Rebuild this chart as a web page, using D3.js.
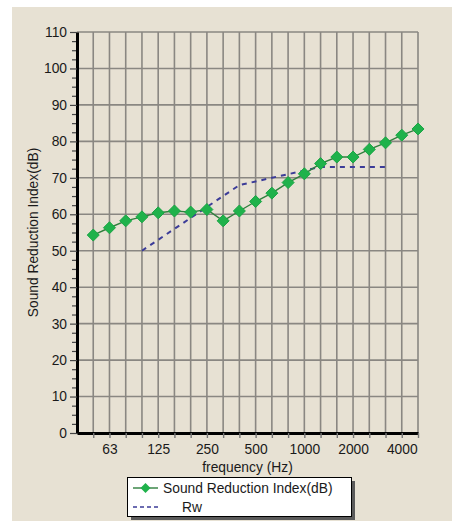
<!DOCTYPE html>
<html>
<head>
<meta charset="utf-8">
<script src="https://cdn.jsdelivr.net/npm/d3@7"></script>
<style>
  html, body { margin: 0; padding: 0; background: #ffffff; }
  svg { display: block; }
  text { font-family: "Liberation Sans", Arial, sans-serif; fill: #1a1a1a; }
</style>
</head>
<body>
<svg id="chart" width="452" height="521"></svg>
<script>
// One-third octave band centre frequencies (Hz)
const frequencies = [50, 63, 80, 100, 125, 160, 200, 250, 315, 400, 500, 630,
                     800, 1000, 1250, 1600, 2000, 2500, 3150, 4000, 5000];
// Labelled bands on the frequency axis
const labelledFrequencies = [63, 125, 250, 500, 1000, 2000, 4000];
// Measured sound reduction index per band (dB)
const reductionIndex = [54.3, 56.3, 58.2, 59.3, 60.4, 60.9, 60.6, 61.3, 58.2, 60.9, 63.5,
                        65.8, 68.7, 71.1, 73.9, 75.7, 75.7, 77.8, 79.6, 81.7, 83.4];
// Shifted ISO 717-1 reference curve (Rw = 69 dB), 100 Hz to 3150 Hz
const rwFrequencies = [100, 125, 160, 200, 250, 315, 400, 500, 630, 800,
                       1000, 1250, 1600, 2000, 2500, 3150];
const rwCurve = [50, 53, 56, 59, 62, 65, 68, 69, 70, 71, 72, 73, 73, 73, 73, 73];
// Value axis ticks
const yTicks = [0, 10, 20, 30, 40, 50, 60, 70, 80, 90, 100, 110];

const svg = d3.select("#chart");
const beige = "#e7e1d3";
const fontSize = 13.8;

svg.append("rect").attr("x", 12).attr("y", 7).attr("width", 440).attr("height", 514)
   .attr("fill", beige);

const plot = { left: 77, right: 418, top: 32, bottom: 433 };

// band index -> position (index 0 is the axis origin, bands sit at 1..21)
const bandIndex = f => frequencies.indexOf(f) + 1;
const x = d3.scaleLinear().domain([0, frequencies.length]).range([plot.left, plot.right]);
const y = d3.scaleLinear().domain([0, 110]).range([plot.bottom, plot.top]);

// grid
const grid = svg.append("g").attr("stroke", "#8a8782").attr("stroke-width", 1.6);
grid.selectAll("line.v").data(frequencies).join("line")
    .attr("x1", d => x(bandIndex(d))).attr("x2", d => x(bandIndex(d)))
    .attr("y1", y(110)).attr("y2", y(0));
grid.selectAll("line.h").data(yTicks).join("line")
    .attr("x1", x(0)).attr("x2", x(frequencies.length))
    .attr("y1", d => y(d)).attr("y2", d => y(d));

// minor ticks on value axis every 2.5 dB
const minorTicks = d3.range(0, 110.01, 2.5).filter(v => v % 10 !== 0);
svg.append("g").attr("transform", `translate(${plot.left},0)`)
   .call(d3.axisLeft(y).tickValues(minorTicks).tickSize(5).tickFormat(""))
   .call(g => g.select(".domain").remove())
   .call(g => g.selectAll("line").attr("stroke", "#444").attr("stroke-width", 1.2));

// value axis
svg.append("g").attr("transform", `translate(${plot.left},0)`)
   .call(d3.axisLeft(y).tickValues(yTicks).tickSize(7).tickPadding(3).tickSizeOuter(0))
   .call(g => g.select(".domain").attr("stroke", "#000").attr("stroke-width", 3))
   .call(g => g.selectAll(".tick line").attr("stroke", "#444").attr("stroke-width", 1.2))
   .call(g => g.selectAll("text").attr("font-size", fontSize).attr("fill", "#1a1a1a")
                .attr("font-family", "Liberation Sans, Arial, sans-serif"));

// frequency axis
svg.append("g").attr("transform", `translate(0,${plot.bottom})`)
   .call(d3.axisBottom(x).tickValues(frequencies.map(bandIndex)).tickSize(5).tickPadding(6)
           .tickSizeOuter(0)
           .tickFormat(i => labelledFrequencies.includes(frequencies[i - 1]) ? frequencies[i - 1] : ""))
   .call(g => g.select(".domain").attr("stroke", "#000").attr("stroke-width", 3))
   .call(g => g.selectAll(".tick line").attr("stroke", "#777").attr("stroke-width", 1.4))
   .call(g => g.selectAll("text").attr("font-size", fontSize).attr("fill", "#1a1a1a")
                .attr("font-family", "Liberation Sans, Arial, sans-serif"));

// axis titles
svg.append("text").attr("x", (plot.left + plot.right) / 2).attr("y", 472)
   .attr("text-anchor", "middle").attr("font-size", fontSize).text("frequency (Hz)");
svg.append("text").attr("transform", `translate(38,${(plot.top + plot.bottom) / 2}) rotate(-90)`)
   .attr("text-anchor", "middle").attr("font-size", fontSize).text("Sound Reduction Index(dB)");

// Rw reference curve
const rwLine = d3.line().x((d, i) => x(bandIndex(rwFrequencies[i]))).y(d => y(d));
svg.append("path").datum(rwCurve).attr("d", rwLine)
   .attr("fill", "none").attr("stroke", "#3c3c98").attr("stroke-width", 2)
   .attr("stroke-dasharray", "5,5");

// measured curve
const riLine = d3.line().x((d, i) => x(i + 1)).y(d => y(d));
svg.append("path").datum(reductionIndex).attr("d", riLine)
   .attr("fill", "none").attr("stroke", "#2f7f3d").attr("stroke-width", 1.4);

const diamond = r => `M0,${-r}L${r},0L0,${r}L${-r},0Z`;
svg.append("g").selectAll("path").data(reductionIndex).join("path")
   .attr("transform", (d, i) => `translate(${x(i + 1)},${y(d)})`)
   .attr("d", diamond(6)).attr("fill", "#1fb24b").attr("stroke", "#1aa544")
   .attr("stroke-width", 1).attr("stroke-linejoin", "round");

// legend
const legend = svg.append("g");
legend.append("rect").attr("x", 131).attr("y", 481).attr("width", 224).attr("height", 39)
      .attr("fill", "#5a5a5a");
legend.append("rect").attr("x", 127.5).attr("y", 477.5).attr("width", 224).attr("height", 39)
      .attr("fill", "#ffffff").attr("stroke", "#000").attr("stroke-width", 1);
legend.append("line").attr("x1", 133).attr("x2", 158).attr("y1", 488).attr("y2", 488)
      .attr("stroke", "#2f7f3d").attr("stroke-width", 1.4);
legend.append("path").attr("transform", "translate(145.5,488)").attr("d", diamond(5))
      .attr("fill", "#1fb24b");
legend.append("text").attr("x", 163).attr("y", 493).attr("font-size", fontSize)
      .text("Sound Reduction Index(dB)");
legend.append("line").attr("x1", 133).attr("x2", 158).attr("y1", 507).attr("y2", 507)
      .attr("stroke", "#3c3c98").attr("stroke-width", 1.5).attr("stroke-dasharray", "4,3");
legend.append("text").attr("x", 182).attr("y", 512).attr("font-size", fontSize).text("Rw");
</script>
</body>
</html>
